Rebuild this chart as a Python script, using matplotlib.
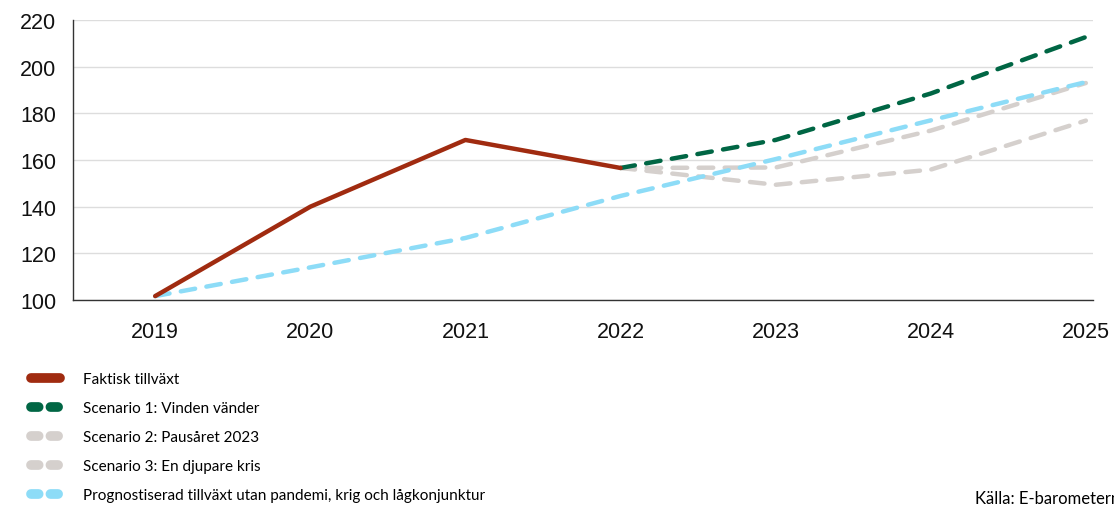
import matplotlib.pyplot as plt
from matplotlib.lines import Line2D

plt.rcParams['font.family'] = ['Lato', 'DejaVu Sans']
plt.rcParams['lines.scale_dashes'] = False

years = [2019, 2020, 2021, 2022, 2023, 2024, 2025]
actual_years = [2019, 2020, 2021, 2022]
actual = [101.7, 140, 168.6, 156.6]
scen_years = [2022, 2023, 2024, 2025]
scenario1 = [156.6, 168.6, 188.5, 212.7]
scenario2 = [156.6, 156.8, 172.6, 193.0]
scenario3 = [156.6, 149.4, 155.9, 176.9]
no_crisis = [101.7, 114, 126.6, 144.6, 160.4, 177.0, 193.4]

labels = ["Faktisk tillväxt", "Scenario 1: Vinden vänder", "Scenario 2: Pausåret 2023",
          "Scenario 3: En djupare kris",
          "Prognostiserad tillväxt utan pandemi, krig och lågkonjunktur"]

red = '#a02b10'
green = '#006644'
grey = '#d5d0cd'
blue = '#8ddcf7'

fig = plt.figure(figsize=(11.14, 5.06), dpi=100)
ax = fig.add_axes([0.0655, 0.405, 0.9155, 0.5535])

dash = (0, (10.5, 8.25))
lw = 3.2
ax.plot(scen_years, scenario3, color=grey, lw=lw, linestyle=dash, dash_capstyle='round', zorder=3)
ax.plot(scen_years, scenario2, color=grey, lw=lw, linestyle=dash, dash_capstyle='round', zorder=3)
ax.plot(years, no_crisis, color=blue, lw=lw, linestyle=dash, dash_capstyle='round', zorder=4)
ax.plot(scen_years, scenario1, color=green, lw=lw, linestyle=dash, dash_capstyle='round', zorder=5)
ax.plot(actual_years, actual, color=red, lw=lw, solid_capstyle='round', zorder=6)

ax.set_xlim(2018.47, 2025.045)
ax.set_ylim(100, 220)
ax.set_yticks(range(100, 221, 20))
ax.set_xticks(years)
ax.tick_params(length=0, labelsize=15.5, colors='#111111')
for lab in ax.get_xticklabels() + ax.get_yticklabels():
    lab.set_family(['Liberation Sans', 'DejaVu Sans'])
ax.tick_params(axis='x', pad=15)
ax.tick_params(axis='y', pad=12)
ax.grid(axis='y', color='#dddddd', lw=1)
ax.set_axisbelow(True)
for s in ['top', 'right']:
    ax.spines[s].set_visible(False)
for s in ['left', 'bottom']:
    ax.spines[s].set_color('#333333')
    ax.spines[s].set_linewidth(1)

leg_dash = (0, (5.5, 8.5))
handles = [
    Line2D([], [], color=red, lw=7, solid_capstyle='round'),
    Line2D([], [], color=green, lw=7, linestyle=leg_dash, dash_capstyle='round'),
    Line2D([], [], color=grey, lw=7, linestyle=leg_dash, dash_capstyle='round'),
    Line2D([], [], color=grey, lw=7, linestyle=leg_dash, dash_capstyle='round'),
    Line2D([], [], color=blue, lw=7, linestyle=leg_dash, dash_capstyle='round'),
]
fig.legend(handles, labels, loc='upper left', bbox_to_anchor=(31 / 1114, 1 - 373 / 506),
           frameon=False, fontsize=11, handlelength=1.9, handletextpad=1.5,
           labelspacing=0.98, borderpad=0, borderaxespad=0)

fig.text(975 / 1114, 1 - 499 / 506, "Källa: E-barometern", fontsize=12, va='center', ha='left')

fig.savefig('out.png', dpi=100)
